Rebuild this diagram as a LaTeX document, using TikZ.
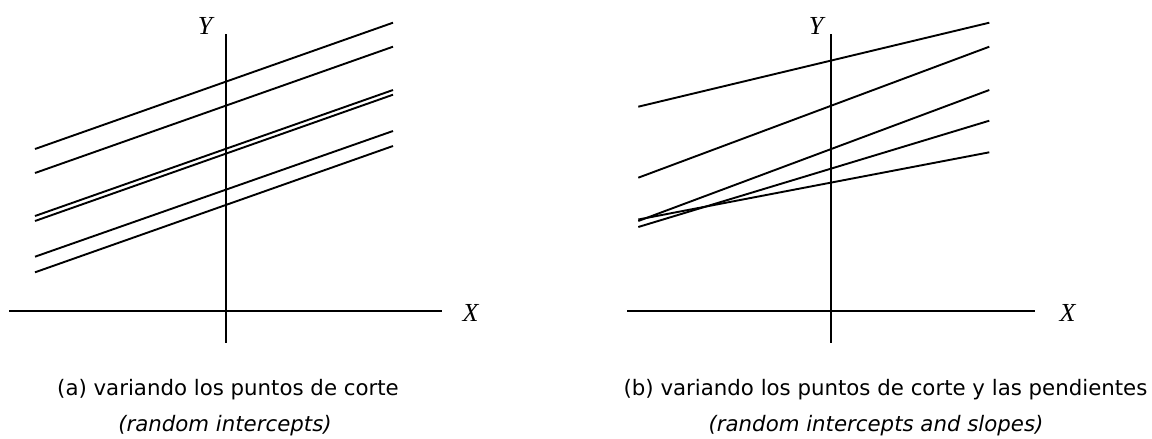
\documentclass[tikz,border=0pt]{standalone}
\usepackage{fontspec}
\setmainfont{Liberation Serif}
\newfontfamily\capfont{DejaVu Sans}
\begin{document}
\begin{tikzpicture}[x=1pt,y=-1pt,
  axis/.style={line width=1.9pt},
  reg/.style={line width=1.9pt},
  axlabel/.style={font=\fontsize{26}{26}\selectfont\itshape, inner sep=0pt},
  captext/.style={font=\capfont\fontsize{21.3}{24}\selectfont, inner sep=0pt, anchor=base},
  captextit/.style={font=\capfont\fontsize{21.3}{24}\selectfont\itshape, inner sep=0pt, anchor=base}]
\useasboundingbox (0,0) rectangle (1152,439);
% ---------- panel (a)
\draw[axis] (9,311) -- (442,311);
\draw[axis] (226,34) -- (226,343);
\node[axlabel] (xa) at (470.5,312.5) {X};
\node[axlabel] (ya) at (205,26) {Y};
\draw[reg] (35,149) -- (393,22.7);
\draw[reg] (35,173) -- (393,46.7);
\draw[reg] (35,216) -- (393,90);
\draw[reg] (35,221) -- (393,94.7);
\draw[reg] (35,256.7) -- (393,131);
\draw[reg] (35,272.3) -- (393,146);
\node[captext] (ca) at (228,395) {(a) variando los puntos de corte};
\node[captextit] (cai) at (225,431) {(random intercepts)};
% ---------- panel (b)
\draw[axis] (627,311) -- (1035,311);
\draw[axis] (831,34) -- (831,343);
\node[axlabel] (xb) at (1067.5,312.5) {X};
\node[axlabel] (yb) at (816,26) {Y};
\draw[reg] (638.3,106.7) -- (989.3,22.7);
\draw[reg] (638.3,177.7) -- (989.3,46.7);
\draw[reg] (638.3,221) -- (989.3,90);
\draw[reg] (638.3,227) -- (989.3,120.7);
\draw[reg] (638.3,219.5) -- (989.3,152.3);
\node[captext] (cb) at (885.5,395) {(b) variando los puntos de corte y las pendientes};
\node[captextit] (cbi) at (876,431) {(random intercepts and slopes)};
\end{tikzpicture}
\end{document}
